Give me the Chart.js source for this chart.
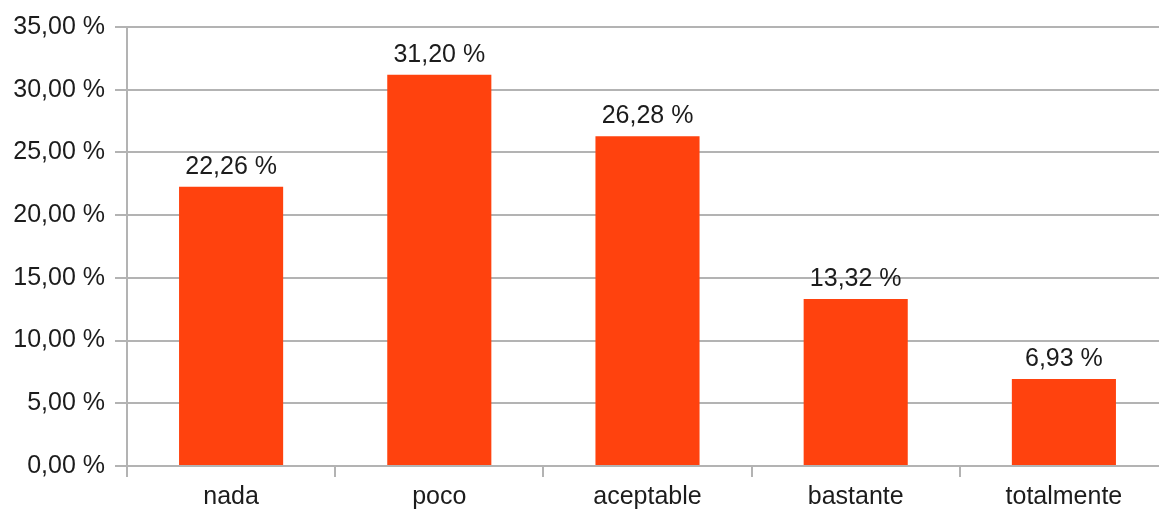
<!DOCTYPE html>
<html lang="es">
<head>
    <meta charset="UTF-8">
    <title>Respuestas</title>
    <script src="https://cdn.jsdelivr.net/npm/chart.js@4.4.1/dist/chart.umd.min.js"></script>
    <style>
        html, body { margin: 0; padding: 0; background: #fff; overflow: hidden; }
        #wrap { width: 1168px; height: 513px; }
    </style>
</head>
<body>
    <div id="wrap"><canvas id="myChart"></canvas></div>

    <script>
        // data
        var categories = ['nada', 'poco', 'aceptable', 'bastante', 'totalmente'];
        var percentages = [22.26, 31.20, 26.28, 13.32, 6.93];
        var yMax = 35;
        var yStep = 5;

        var FONT = '"Liberation Sans", Arial, sans-serif';
        var TEXT = '#1c1c1c';

        function fmt(v) {
            return v.toFixed(2).replace('.', ',') + ' %';
        }

        // draws the value above each bar
        var valueLabels = {
            id: 'valueLabels',
            afterDatasetsDraw: function(chart) {
                var ctx = chart.ctx;
                var meta = chart.getDatasetMeta(0);
                ctx.save();
                ctx.font = '25px ' + FONT;
                ctx.fillStyle = TEXT;
                ctx.textAlign = 'center';
                ctx.textBaseline = 'alphabetic';
                meta.data.forEach(function(bar, i) {
                    ctx.fillText(fmt(percentages[i]), bar.x, bar.y - 13);
                });
                ctx.restore();
            }
        };

        var ctx = document.getElementById('myChart').getContext('2d');
        var myChart = new Chart(ctx, {
            type: 'bar',
            data: {
                labels: categories,
                datasets: [{
                    data: percentages,
                    backgroundColor: '#ff420e',
                    borderWidth: 0,
                    categoryPercentage: 1,
                    barPercentage: 0.5
                }]
            },
            options: {
                responsive: true,
                maintainAspectRatio: false,
                animation: false,
                // chart area starts at y = 27 like the reference
                layout: { padding: { top: 27, right: 0, left: 0, bottom: 0 } },
                plugins: {
                    legend: { display: false },
                    tooltip: { enabled: false }
                },
                scales: {
                    x: {
                        offset: true,
                        grid: {
                            offset: true,
                            drawOnChartArea: false,
                            color: '#b3b3b3',
                            lineWidth: 2,
                            tickLength: 11
                        },
                        border: { display: false },
                        ticks: {
                            color: TEXT,
                            padding: 5,
                            font: { family: FONT, size: 25 }
                        },
                        afterFit: function(scale) { scale.height = 47; }
                    },
                    y: {
                        min: 0,
                        max: yMax,
                        grid: {
                            color: '#b3b3b3',
                            lineWidth: 2,
                            tickLength: 12
                        },
                        border: { display: true, color: '#b3b3b3', width: 2 },
                        ticks: {
                            stepSize: yStep,
                            color: TEXT,
                            padding: 10,
                            font: { family: FONT, size: 25 },
                            callback: function(v) { return fmt(v); }
                        },
                        afterFit: function(scale) { scale.width = 127; }
                    }
                }
            },
            plugins: [valueLabels]
        });
    </script>
</body>
</html>
